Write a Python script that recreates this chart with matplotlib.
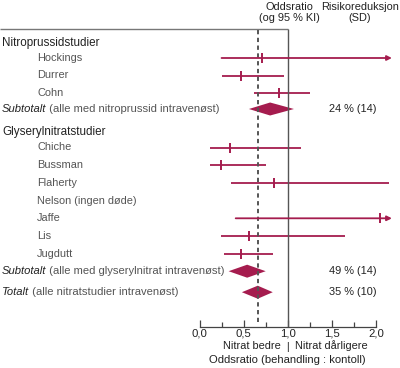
import matplotlib
matplotlib.use("Agg")
import matplotlib.pyplot as plt

plt.rcParams['font.family'] = ['Liberation Sans', 'DejaVu Sans']

# --- data (oddsratio, nedre KI, øvre KI) ---
nitro_names = ["Hockings", "Durrer", "Cohn"]
nitro_or = [0.71, 0.47, 0.90]
nitro_lo = [0.25, 0.25, 0.62]
nitro_hi = [2.18, 0.96, 1.25]
nitro_arrow = [True, False, False]
nitro_sub = (0.80, 0.56, 1.07)
nitro_sub_text = "24 % (14)"

glyc_names = ["Chiche", "Bussman", "Flaherty", "Nelson (ingen døde)", "Jaffe", "Lis", "Jugdutt"]
glyc_or = [0.34, 0.245, 0.84, None, 2.05, 0.565, 0.47]
glyc_lo = [0.12, 0.12, 0.355, None, 0.41, 0.245, 0.28]
glyc_hi = [1.15, 0.75, 2.15, None, 2.18, 1.645, 0.83]
glyc_arrow = [False, False, False, False, True, False, False]
glyc_sub = (0.54, 0.33, 0.75)
glyc_sub_text = "49 % (14)"

total = (0.66, 0.48, 0.83)
total_text = "35 % (10)"

x_ticks = [0.0, 0.5, 1.0, 1.5, 2.0]
x_ticklabels = ["0,0", "0,5", "1,0", "1,5", "2,0"]
x_minor = [0.25, 0.75, 1.25, 1.75]

RED = "#a51c4e"
GREY = "#555555"
DARK = "#222222"
FS = 7.9

fig = plt.figure(figsize=(4.0, 3.68), dpi=100)
ax = fig.add_axes([0, 0, 1, 1])
# x: 0,0 at px 199.5, 2,0 at px 376
px = 88.25
ax.set_xlim(-199.5 / px, (400 - 199.5) / px)
ax.set_ylim(368, 0)
for s in ["top", "left", "right"]:
    ax.spines[s].set_visible(False)
ax.spines["bottom"].set_position(("data", 327))
ax.spines["bottom"].set_bounds(0, 2.0)
ax.spines["bottom"].set_color("#444444")
ax.spines["bottom"].set_linewidth(0.9)
ax.set_yticks([])
ax.set_xticks(x_ticks)
ax.set_xticklabels(x_ticklabels)
ax.set_xticks(x_minor, minor=True)
ax.tick_params(axis="x", which="major", direction="in", length=5, width=0.9,
               color="#444444", labelsize=FS + 0.3, labelcolor=DARK, pad=1)
ax.tick_params(axis="x", which="minor", direction="in", length=3.5, width=0.9,
               color="#444444")

tx = ax.get_yaxis_transform()  # x in axes fraction, y in data

# row layout
nitro_y = [58 + 17.5 * i for i in range(len(nitro_names))]
y_sub1 = nitro_y[-1] + 16
y_h2 = y_sub1 + 23.5
glyc_y = [y_h2 + 15 + 17.7 * i for i in range(len(glyc_names))]
y_sub2 = glyc_y[-1] + 17.5
y_total = y_sub2 + 21


def study(name, o, lo, hi, arrow, yy):
    ax.text(37 / 400, yy, name, transform=tx, fontsize=FS, color=GREY, va="center")
    if o is None:
        return
    if arrow:
        ax.annotate("", xy=(hi, yy), xytext=(lo, yy),
                    arrowprops=dict(arrowstyle="-|>", color=RED, lw=1.3,
                                    shrinkA=0, shrinkB=0, mutation_scale=7))
    else:
        ax.hlines(yy, lo, hi, color=RED, lw=1.3)
    ax.plot([o], [yy], marker="|", ms=6.5, mew=1.4, color=RED)


def diamond(vals, yy, h=6.5):
    o, lo, hi = vals
    ax.fill([lo, o, hi, o], [yy, yy - h, yy, yy + h], color=RED, lw=0)


def italic_label(first, rest, yy):
    t1 = ax.text(2 / 400, yy, first, transform=tx, fontsize=FS + 0.2, color=DARK,
                 style="italic", va="center")
    ax.annotate(rest, xy=(1, 0), xycoords=t1, fontsize=FS + 0.2, color=GREY,
                va="bottom", ha="left")


# headers
ax.text(2 / 400, 43, "Nitroprussidstudier", transform=tx, fontsize=FS + 0.5,
        color=DARK, va="center")
ax.text(2 / 400, y_h2, "Glyserylnitratstudier", transform=tx, fontsize=FS + 0.5,
        color=DARK, va="center")

for i, n in enumerate(nitro_names):
    study(n, nitro_or[i], nitro_lo[i], nitro_hi[i], nitro_arrow[i], nitro_y[i])
for i, n in enumerate(glyc_names):
    study(n, glyc_or[i], glyc_lo[i], glyc_hi[i], glyc_arrow[i], glyc_y[i])

diamond(nitro_sub, y_sub1)
diamond(glyc_sub, y_sub2)
diamond(total, y_total)

italic_label("Subtotalt", " (alle med nitroprussid intravenøst)", y_sub1)
italic_label("Subtotalt", " (alle med glyserylnitrat intravenøst)", y_sub2)
italic_label("Totalt", " (alle nitratstudier intravenøst)", y_total)

# risk reduction column
for txt, yy in [(nitro_sub_text, y_sub1), (glyc_sub_text, y_sub2), (total_text, y_total)]:
    ax.text(353 / 400, yy, txt, transform=tx, fontsize=FS, color=DARK,
            ha="center", va="center")

# reference lines
ax.hlines(28.5, ax.get_xlim()[0], 1.0, color="#777777", lw=1.0)
ax.vlines(1.0, 28.5, 327, color="#555555", lw=1.0)
ax.vlines(total[0], 30, 322, color="#555555", lw=1.4, linestyles=(0, (2.2, 1.8)))

# column headers
ax.text(289 / 400, 7, "Oddsratio", transform=tx, fontsize=FS, color=DARK,
        ha="center", va="center")
ax.text(289 / 400, 18, "(og 95 % KI)", transform=tx, fontsize=FS, color=DARK,
        ha="center", va="center")
ax.text(360 / 400, 7, "Risikoreduksjon", transform=tx, fontsize=FS, color=DARK,
        ha="center", va="center")
ax.text(360 / 400, 18, "(SD)", transform=tx, fontsize=FS, color=DARK,
        ha="center", va="center")

# bottom labels
ax.text(0.92, 346, "Nitrat bedre", fontsize=FS, color=DARK, ha="right", va="center")
ax.text(1.0, 347, "|", fontsize=FS - 0.5, color=DARK, ha="center", va="center")
ax.text(1.08, 346, "Nitrat dårligere", fontsize=FS, color=DARK, ha="left", va="center")
ax.text(1.0, 360, "Oddsratio (behandling : kontoll)", fontsize=FS + 0.2, color=DARK,
        ha="center", va="center")

fig.savefig("out.png", dpi=100)
